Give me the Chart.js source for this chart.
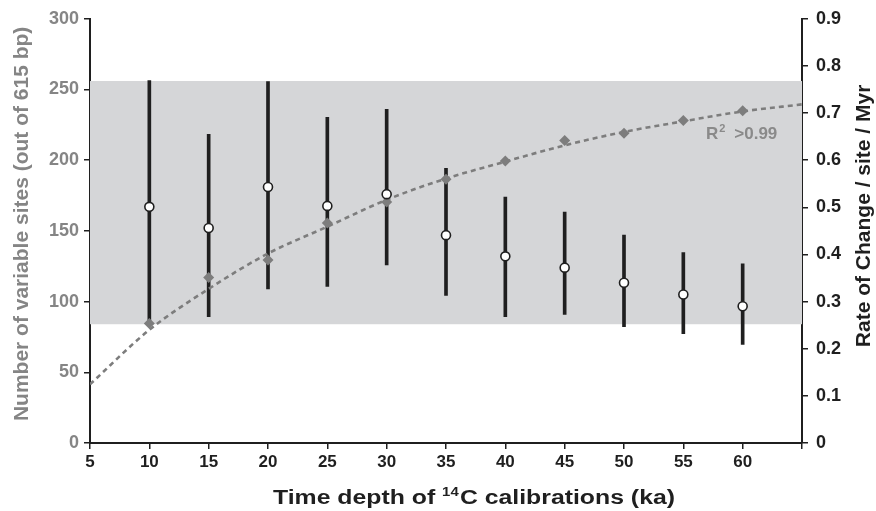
<!DOCTYPE html>
<html>
<head>
<meta charset="utf-8">
<script src="https://cdn.jsdelivr.net/npm/chart.js@4.4.1/dist/chart.umd.min.js"></script>
<style>
  html, body { margin: 0; padding: 0; background: #fff; }
  canvas { display: block; }
</style>
</head>
<body>
<canvas id="myChart" width="876" height="511"></canvas>
<script>
// Time depth of calibrations (ka)
const timeDepth = [10, 15, 20, 25, 30, 35, 40, 45, 50, 55, 60];
// Number of variable sites (left axis, grey diamonds)
const variableSites = [84.5, 117, 129.5, 155.5, 170.5, 186.5, 199.5, 214, 219, 228, 235];
// Rate of change / site / Myr (right axis, open circles with error bars)
const rateMean = [0.501, 0.456, 0.543, 0.503, 0.528, 0.441, 0.396, 0.372, 0.340, 0.315, 0.290];
const rateLow = [0.254, 0.268, 0.327, 0.332, 0.378, 0.313, 0.268, 0.273, 0.247, 0.232, 0.209];
const rateHigh = [0.769, 0.655, 0.767, 0.691, 0.708, 0.583, 0.522, 0.490, 0.441, 0.404, 0.380];
// Fitted curve
const fitX = [5, 10, 15, 20, 25, 30, 35, 40, 45, 50, 55, 60, 65];
const fitSites = [41.5, 80, 109, 134, 153, 172, 187, 199, 210.5, 220, 227.5, 234.5, 239.5];
// Shaded range (left axis units)
const bandLow = 84;
const bandHigh = 256;

const xTicks = [5, 10, 15, 20, 25, 30, 35, 40, 45, 50, 55, 60, 65];
const leftTicks = [0, 50, 100, 150, 200, 250, 300];
const rightTicks = [0, 0.1, 0.2, 0.3, 0.4, 0.5, 0.6, 0.7, 0.8, 0.9];

const GREY = '#7d7d7d';
const DARK = '#1f1f1f';
const FONT = '"Liberation Sans", Arial, sans-serif';

// Grey band behind the data
const bandPlugin = {
    id: 'band',
    beforeDatasetsDraw(chart) {
        const { ctx, chartArea, scales } = chart;
        const top = scales.y.getPixelForValue(bandHigh);
        const bottom = scales.y.getPixelForValue(bandLow);
        ctx.save();
        ctx.fillStyle = '#d5d6d8';
        ctx.fillRect(chartArea.left, top, chartArea.right - chartArea.left, bottom - top);
        ctx.restore();
    }
};

// Axis titles and R² note (superscripts need manual drawing)
const titlePlugin = {
    id: 'titles',
    afterDraw(chart) {
        const { ctx, chartArea, scales } = chart;
        ctx.save();
        ctx.textBaseline = 'middle';
        ctx.textAlign = 'center';

        // left title
        ctx.save();
        ctx.translate(22, (chartArea.top + chartArea.bottom) / 2 - 7);
        ctx.rotate(-Math.PI / 2);
        ctx.fillStyle = '#858585';
        ctx.font = 'bold 21px ' + FONT;
        ctx.fillText('Number of variable sites (out of 615 bp)', 0, 0);
        ctx.restore();

        // right title
        ctx.save();
        ctx.translate(864, (chartArea.top + chartArea.bottom) / 2 - 15);
        ctx.rotate(-Math.PI / 2);
        ctx.fillStyle = DARK;
        ctx.font = 'bold 21px ' + FONT;
        ctx.fillText('Rate of Change / site / Myr', 0, 0);
        ctx.restore();

        // x title with superscript, stretched to the reference width
        ctx.textAlign = 'left';
        ctx.textBaseline = 'alphabetic';
        ctx.fillStyle = DARK;
        const big = 'bold 20px ' + FONT;
        const small = 'bold 12px ' + FONT;
        const p1 = 'Time depth of ', p2 = '14', p3 = 'C calibrations (ka)';
        ctx.font = big;
        const w1 = ctx.measureText(p1).width, w3 = ctx.measureText(p3).width;
        ctx.font = small;
        const w2 = ctx.measureText(p2).width + 1;
        const total = w1 + w2 + w3;
        const sx = 402 / total;
        ctx.save();
        ctx.translate(474 - 201, 504);
        ctx.scale(sx, 1);
        let x = 0;
        ctx.font = big; ctx.fillText(p1, x, 0); x += w1;
        ctx.font = small; ctx.fillText(p2, x, -8); x += w2;
        ctx.font = big; ctx.fillText(p3, x, 0);
        ctx.restore();

        // R² note
        ctx.fillStyle = '#8a8a8a';
        let rx = scales.x.getPixelForValue(56.9);
        const ry = scales.y.getPixelForValue(219) + 6;
        ctx.font = 'bold 17px ' + FONT;
        ctx.fillText('R', rx, ry); rx += ctx.measureText('R').width + 1;
        ctx.font = 'bold 11px ' + FONT;
        ctx.fillText('2', rx, ry - 7); rx += ctx.measureText('2').width + 9;
        ctx.font = 'bold 17px ' + FONT;
        ctx.fillText('>0.99', rx, ry);
        ctx.restore();
    }
};

const tickFont = { family: FONT, weight: 'bold', size: 18 };
const axisGrid = { drawOnChartArea: false, drawTicks: true, tickLength: 6, color: DARK, lineWidth: 1.5, offset: false };
const axisBorder = { display: true, color: DARK, width: 2 };

const config = {
    type: 'bar',
    data: {
        datasets: [
            {
                type: 'scatter',
                label: 'Rate of change',
                data: timeDepth.map((t, i) => ({ x: t, y: rateMean[i] })),
                yAxisID: 'y2',
                pointStyle: 'circle',
                pointRadius: 4.5,
                backgroundColor: '#ffffff',
                borderColor: DARK,
                borderWidth: 1.6,
                order: 0
            },
            {
                type: 'scatter',
                label: 'Variable sites',
                data: timeDepth.map((t, i) => ({ x: t, y: variableSites[i] })),
                yAxisID: 'y',
                pointStyle: 'rectRot',
                pointRadius: 5.5,
                backgroundColor: GREY,
                borderColor: GREY,
                borderWidth: 0,
                order: 1
            },
            {
                type: 'line',
                label: 'Fit',
                data: fitX.map((t, i) => ({ x: t, y: fitSites[i] })),
                yAxisID: 'y',
                borderColor: GREY,
                borderWidth: 2.6,
                borderDash: [5, 4],
                pointRadius: 0,
                fill: false,
                cubicInterpolationMode: 'monotone',
                order: 2
            },
            {
                type: 'bar',
                label: 'Range',
                data: timeDepth.map((t, i) => ({ x: t, y: [rateLow[i], rateHigh[i]] })),
                yAxisID: 'y2',
                backgroundColor: DARK,
                barThickness: 3,
                grouped: false,
                order: 3
            }
        ]
    },
    options: {
        responsive: false,
        animation: false,
        devicePixelRatio: 1,
        layout: { padding: { top: 17, left: 0, right: 0, bottom: 0 } },
        plugins: {
            legend: { display: false },
            tooltip: { enabled: false }
        },
        scales: {
            x: {
                type: 'linear',
                min: 5,
                max: 65,
                offset: false,
                afterBuildTicks: (scale) => {
                    scale.ticks = xTicks.map(v => ({ value: v }));
                },
                ticks: {
                    color: DARK,
                    font: { ...tickFont, size: 17 },
                    padding: 3,
                    maxRotation: 0,
                    autoSkip: false,
                    callback: (v) => (v === 65 ? '' : String(v))
                },
                grid: axisGrid,
                border: axisBorder,
                afterFit: (scale) => { scale.height = 68; }
            },
            y: {
                type: 'linear',
                position: 'left',
                min: 0,
                max: 300,
                afterBuildTicks: (scale) => {
                    scale.ticks = leftTicks.map(v => ({ value: v }));
                },
                ticks: { color: '#858585', font: tickFont, padding: 5 },
                grid: axisGrid,
                border: axisBorder,
                afterFit: (scale) => { scale.width = 90; }
            },
            y2: {
                type: 'linear',
                position: 'right',
                min: 0,
                max: 0.9,
                afterBuildTicks: (scale) => {
                    scale.ticks = rightTicks.map(v => ({ value: v }));
                },
                ticks: {
                    color: DARK,
                    font: tickFont,
                    padding: 8,
                    callback: (v) => (v === 0 ? '0' : v.toFixed(1))
                },
                grid: axisGrid,
                border: axisBorder,
                afterFit: (scale) => { scale.width = 74; }
            }
        }
    },
    plugins: [bandPlugin, titlePlugin]
};

const ctx = document.getElementById('myChart').getContext('2d');
const myChart = new Chart(ctx, config);
</script>
</body>
</html>
